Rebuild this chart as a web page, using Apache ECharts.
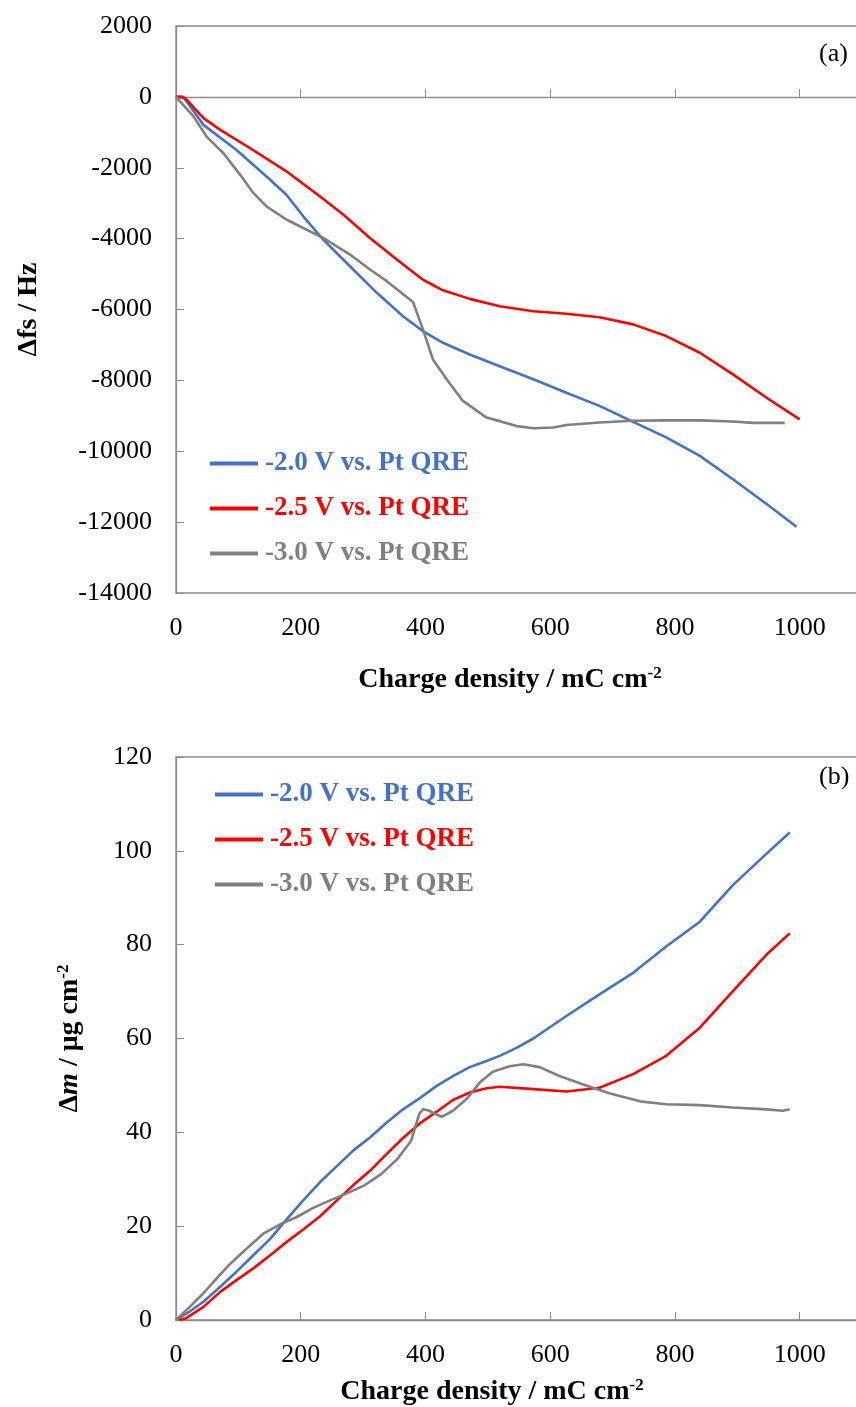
<!DOCTYPE html>
<html>
<head>
<meta charset="utf-8">
<script src="https://cdn.jsdelivr.net/npm/echarts@6/dist/echarts.min.js"></script>
<style>
  html, body { margin: 0; padding: 0; background: #fff; }
  #chart { width: 856px; height: 1407px; }
</style>
</head>
<body>
<div id="chart"></div>
<script>
const seriesNames = ['-2.0 V vs. Pt QRE', '-2.5 V vs. Pt QRE', '-3.0 V vs. Pt QRE']
const seriesColors = ['#4472C4', '#FF0000', '#808080']
const xTicks = [0, 200, 400, 600, 800, 1000]

// (a) frequency shift, Hz  [charge density, Δfs]
const fsBlue = [[0,0],[12,-20],[22,-250],[44,-790],[97,-1500],[151,-2340],[177,-2760],[204,-3370],[236,-4030],[279,-4780],[322,-5530],[364,-6190],[396,-6610],[428,-6940],[471,-7270],[519,-7600],[573,-7970],[626,-8350],[679,-8720],[733,-9170],[786,-9610],[840,-10130],[893,-10790],[947,-11490],[995,-12130]]
const fsRed = [[0,0],[8,10],[15,-40],[44,-600],[71,-930],[119,-1450],[177,-2100],[231,-2810],[268,-3320],[311,-3980],[354,-4590],[396,-5160],[428,-5460],[471,-5700],[519,-5910],[573,-6050],[626,-6120],[679,-6220],[733,-6420],[786,-6750],[840,-7220],[893,-7830],[947,-8490],[1000,-9100]]
const fsGray = [[0,0],[28,-550],[49,-1120],[76,-1590],[103,-2200],[124,-2710],[145,-3090],[177,-3460],[204,-3700],[236,-3980],[279,-4450],[311,-4870],[338,-5200],[380,-5790],[396,-6560],[412,-7410],[434,-7970],[460,-8580],[498,-9050],[519,-9150],[546,-9290],[573,-9350],[605,-9330],[626,-9260],[679,-9190],[733,-9140],[786,-9130],[840,-9130],[893,-9160],[925,-9200],[976,-9200]]

// (b) mass change, µg cm-2  [charge density, Δm]
const mBlue = [[0,0],[22,1.8],[44,3.9],[71,7.1],[97,10.3],[124,13.8],[151,17.3],[177,21.4],[204,25.5],[231,29.4],[258,32.8],[284,36.1],[311,38.9],[338,42.1],[364,44.9],[391,47.3],[418,49.9],[444,52],[471,53.9],[498,55.2],[519,56.3],[546,58],[573,60],[626,64.8],[679,69.4],[733,74],[786,79.6],[840,84.9],[893,92.7],[947,99.4],[984,103.9]]
const mRed = [[5,0],[15,0.3],[44,2.8],[71,6],[97,8.5],[124,11],[151,13.8],[177,16.6],[204,19.3],[231,22.1],[258,25.5],[284,28.7],[311,31.8],[338,35.4],[364,38.8],[391,41.9],[418,44.4],[444,46.9],[471,48.5],[498,49.4],[519,49.7],[573,49.2],[626,48.7],[679,49.5],[733,52.4],[786,56.3],[840,62.3],[893,70.1],[947,77.9],[984,82.4]]
const mGray = [[0,0],[22,2.8],[44,5.7],[60,8.1],[87,12],[113,15.2],[140,18.4],[167,20.4],[193,21.9],[220,23.9],[247,25.5],[274,27],[302,28.7],[329,31.1],[355,34.3],[377,38.2],[390,43.9],[396,44.9],[404,44.7],[426,43.3],[444,44.6],[466,47.1],[487,50.6],[508,52.9],[535,54.1],[557,54.5],[583,53.9],[615,52],[653,50.2],[696,48.3],[744,46.6],[786,46],[840,45.8],[893,45.3],[947,44.9],[973,44.6],[984,44.9]]

const FONT = '"Liberation Serif", "Times New Roman", serif'
const AXIS_GRAY = '#8c8c8c'
const TITLE_SIZE = 28

const chart = echarts.init(document.getElementById('chart'))

const xAxisBase = (gridIndex, nameGap, shift) => ({
  type: 'value',
  gridIndex,
  min: 0,
  max: 1100,
  interval: 200,
  name: '{t|Charge density / mC cm}{s|-2}',
  nameLocation: 'middle',
  nameGap,
  nameTextStyle: {
    padding: [0, shift, 0, 0],
    rich: {
      t: { fontFamily: FONT, fontSize: TITLE_SIZE, fontWeight: 'bold', color: '#000' },
      s: { fontFamily: FONT, fontSize: 17, fontWeight: 'bold', color: '#000', verticalAlign: 'top', padding: [0, 0, 13, 0] }
    }
  },
  axisLine: { lineStyle: { color: AXIS_GRAY, width: 1.3 } },
  axisTick: { inside: true, length: 8, lineStyle: { color: AXIS_GRAY } },
  axisLabel: {
    fontFamily: FONT, fontSize: 26, color: '#000', margin: 22,
    formatter: v => (xTicks.includes(v) ? String(v) : '')
  },
  splitLine: { show: false }
})

const yAxisBase = (gridIndex, min, max, interval) => ({
  type: 'value',
  gridIndex,
  min, max, interval,
  nameLocation: 'middle',
  nameRotate: 90,
  axisLine: { show: true, onZero: false, lineStyle: { color: AXIS_GRAY, width: 1.3 } },
  axisTick: { show: true, inside: true, length: 8, lineStyle: { color: AXIS_GRAY } },
  axisLabel: { fontFamily: FONT, fontSize: 26, color: '#000', margin: 24, formatter: v => String(v) },
  splitLine: { show: false }
})

const legendFor = (left, top) => ({
  orient: 'vertical',
  left, top,
  padding: 0,
  itemWidth: 48,
  itemHeight: 4,
  itemGap: 18,
  icon: 'rect',
  textStyle: { fontFamily: FONT, fontSize: 27, fontWeight: 'bold', padding: [0, 0, 0, 2] },
  data: seriesNames.map((n, i) => ({ name: n, textStyle: { color: seriesColors[i] } }))
})

const lineSeries = (name, data, idx, axisIdx) => ({
  name,
  type: 'line',
  xAxisIndex: axisIdx,
  yAxisIndex: axisIdx,
  data,
  showSymbol: false,
  symbol: 'none',
  lineStyle: { width: 2.6, color: seriesColors[idx] },
  itemStyle: { color: seriesColors[idx] },
  animation: false
})

const option = {
  animation: false,
  backgroundColor: '#fff',
  grid: [
    { left: 176, top: 26, width: 686, height: 567, outerBoundsMode: 'none', containLabel: false, show: true, borderColor: AXIS_GRAY, borderWidth: 1.3 },
    { left: 176, top: 757, width: 686, height: 563, outerBoundsMode: 'none', containLabel: false, show: true, borderColor: AXIS_GRAY, borderWidth: 1.3 }
  ],
  xAxis: [xAxisBase(0, 72, 18), xAxisBase(1, 57, 54)],
  yAxis: [
    Object.assign(yAxisBase(0, -14000, 2000, 2000), {
      name: 'Δfs / Hz',
      nameGap: 133,
      nameTextStyle: { fontFamily: FONT, fontSize: TITLE_SIZE, fontWeight: 'bold', color: '#000' }
    }),
    Object.assign(yAxisBase(1, 0, 120, 20), {
      name: '{b|Δ}{i|m}{b| / μg cm}{s|-2}',
      nameGap: 91,
      nameTextStyle: {
        rich: {
          b: { fontFamily: FONT, fontSize: TITLE_SIZE, fontWeight: 'bold', color: '#000' },
          i: { fontFamily: FONT, fontSize: TITLE_SIZE, fontWeight: 'bold', fontStyle: 'italic', color: '#000' },
          s: { fontFamily: FONT, fontSize: 17, fontWeight: 'bold', color: '#000', verticalAlign: 'top', padding: [0, 0, 13, 0] }
        }
      }
    })
  ],
  legend: [legendFor(210, 450), legendFor(215, 781)],
  graphic: [
    { type: 'text', left: 819, top: 41, style: { text: '(a)', font: '26px ' + FONT, fill: '#000' } },
    { type: 'text', left: 819, top: 764, style: { text: '(b)', font: '26px ' + FONT, fill: '#000' } }
  ],
  series: [
    lineSeries(seriesNames[0], fsBlue, 0, 0),
    lineSeries(seriesNames[1], fsRed, 1, 0),
    lineSeries(seriesNames[2], fsGray, 2, 0),
    lineSeries(seriesNames[0], mBlue, 0, 1),
    lineSeries(seriesNames[1], mRed, 1, 1),
    lineSeries(seriesNames[2], mGray, 2, 1)
  ]
}

chart.setOption(option)
</script>
</body>
</html>
